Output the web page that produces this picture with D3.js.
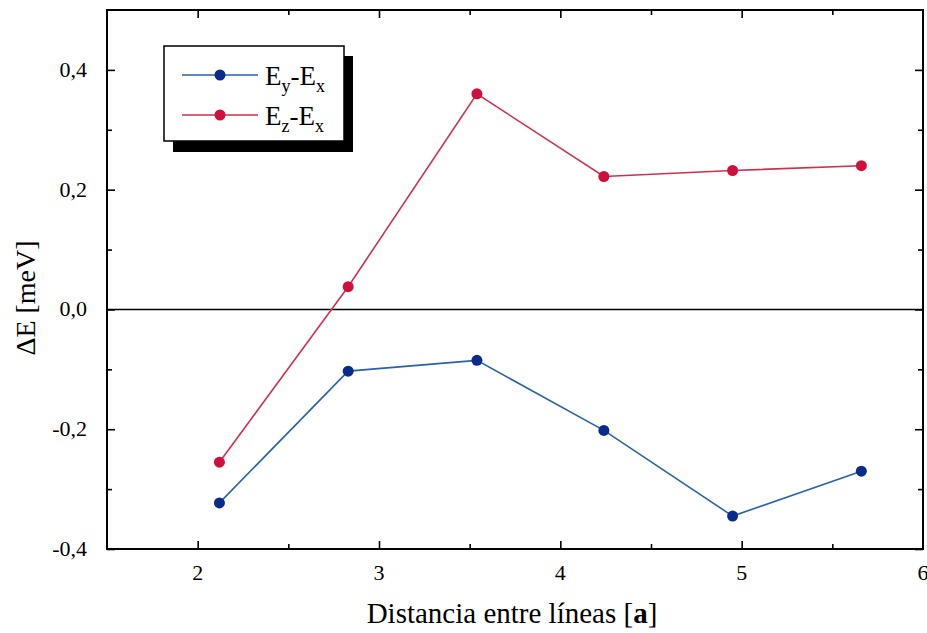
<!DOCTYPE html>
<html>
<head>
<meta charset="utf-8">
<script src="https://cdn.jsdelivr.net/npm/d3@7"></script>
<style>
  body { margin: 0; background: #fff; }
  svg text { font-family: "Liberation Serif", "DejaVu Serif", serif; }
</style>
</head>
<body>
<script>
'use strict';

// distance between lines [a]
const distances = [2.12, 2.83, 3.54, 4.24, 4.95, 5.66];
// Ey - Ex [meV]
const eyEx = [-0.323, -0.103, -0.085, -0.202, -0.345, -0.270];
// Ez - Ex [meV]
const ezEx = [-0.255, 0.038, 0.360, 0.222, 0.232, 0.240];

const xTicks = [2, 3, 4, 5, 6];
const yTicks = [-0.4, -0.2, 0.0, 0.2, 0.4];

const series = [
  { label: 'y', values: eyEx, line: '#2a62ad', dot: '#0b2a8c' },
  { label: 'z', values: ezEx, line: '#d12f4c', dot: '#d0103c' }
];

const svg = d3.select('body').append('svg')
  .attr('width', 927)
  .attr('height', 633);

const x = d3.scaleLinear().domain([1.5, 6]).range([107, 923]);
const y = d3.scaleLinear().domain([-0.4, 0.5]).range([549, 10]);

const fmt = d => d3.format('.1f')(d).replace('.', ',').replace('−', '-');

// frame
svg.append('rect')
  .attr('x', x(1.5)).attr('y', y(0.5))
  .attr('width', x(6) - x(1.5)).attr('height', y(-0.4) - y(0.5))
  .attr('fill', 'none').attr('stroke', '#000').attr('stroke-width', 2);

// inward ticks on all sides
function ticks(axis, scale, vals, size, transform) {
  const g = svg.append('g')
    .attr('transform', transform)
    .call(axis(scale).tickValues(vals).tickSize(size).tickFormat(''));
  g.select('.domain').remove();
  g.selectAll('.tick line').attr('stroke', '#000').attr('stroke-width', 1.6);
  return g;
}

const xMinor = d3.range(2.5, 6, 1);
const yMinor = [-0.3, -0.1, 0.1, 0.3];

ticks(d3.axisTop, x, xTicks.filter(d => d < 6), 8, `translate(0,${y(-0.4)})`);
ticks(d3.axisTop, x, xMinor, 5, `translate(0,${y(-0.4)})`);
ticks(d3.axisBottom, x, xTicks.filter(d => d < 6), 8, `translate(0,${y(0.5)})`);
ticks(d3.axisBottom, x, xMinor, 5, `translate(0,${y(0.5)})`);
ticks(d3.axisRight, y, yTicks, 8, `translate(${x(1.5)},0)`);
ticks(d3.axisRight, y, yMinor, 5, `translate(${x(1.5)},0)`);
ticks(d3.axisLeft, y, yTicks, 8, `translate(${x(6)},0)`);
ticks(d3.axisLeft, y, yMinor, 5, `translate(${x(6)},0)`);

// tick labels
svg.append('g').selectAll('text')
  .data(xTicks).enter().append('text')
  .attr('x', d => x(d)).attr('y', y(-0.4) + 31)
  .attr('text-anchor', 'middle')
  .style('font-size', '22px')
  .text(d => d);

svg.append('g').selectAll('text')
  .data(yTicks).enter().append('text')
  .attr('x', x(1.5) - 20).attr('y', d => y(d) + 7)
  .attr('text-anchor', 'end')
  .style('font-size', '22px')
  .text(fmt);

// axis titles
svg.append('text')
  .attr('x', 512).attr('y', 623)
  .attr('text-anchor', 'middle')
  .style('font-size', '29px')
  .html('Distancia entre líneas [<tspan font-weight="bold">a</tspan>]');

svg.append('text')
  .attr('transform', 'translate(35,298)rotate(-90)')
  .attr('text-anchor', 'middle')
  .style('font-size', '28px')
  .text('ΔE [meV]');

// zero line
svg.append('line')
  .attr('x1', x(1.5)).attr('x2', x(6))
  .attr('y1', y(0)).attr('y2', y(0))
  .attr('stroke', '#000').attr('stroke-width', 1.6);

// series
const line = d3.line().x((d, i) => x(distances[i])).y(d => y(d));
series.forEach(s => {
  svg.append('path')
    .attr('d', line(s.values))
    .attr('fill', 'none')
    .attr('stroke', s.line)
    .attr('stroke-width', 1.6);
  svg.append('g').selectAll('circle')
    .data(s.values).enter().append('circle')
    .attr('cx', (d, i) => x(distances[i]))
    .attr('cy', d => y(d))
    .attr('r', 5.5)
    .attr('fill', s.dot);
});

// legend with drop shadow
const lg = svg.append('g').attr('transform', 'translate(164,46)');
lg.append('rect').attr('x', 9).attr('y', 10).attr('width', 180).attr('height', 96).attr('fill', '#000');
lg.append('rect').attr('x', 0).attr('y', 0).attr('width', 180).attr('height', 95)
  .attr('fill', '#fff').attr('stroke', '#000').attr('stroke-width', 1.5);

series.forEach((s, i) => {
  const yy = 29 + i * 40;
  lg.append('line').attr('x1', 18).attr('x2', 94).attr('y1', yy).attr('y2', yy)
    .attr('stroke', s.line).attr('stroke-width', 1.6);
  lg.append('circle').attr('cx', 56).attr('cy', yy).attr('r', 5.5).attr('fill', s.dot);
  const t = lg.append('text').attr('x', 101).attr('y', yy + 10).style('font-size', '27px');
  t.append('tspan').text('E');
  t.append('tspan').attr('dy', 7).style('font-size', '18px').text(s.label);
  t.append('tspan').attr('dy', -7).text('-E');
  t.append('tspan').attr('dy', 7).style('font-size', '18px').text('x');
});
</script>
</body>
</html>
